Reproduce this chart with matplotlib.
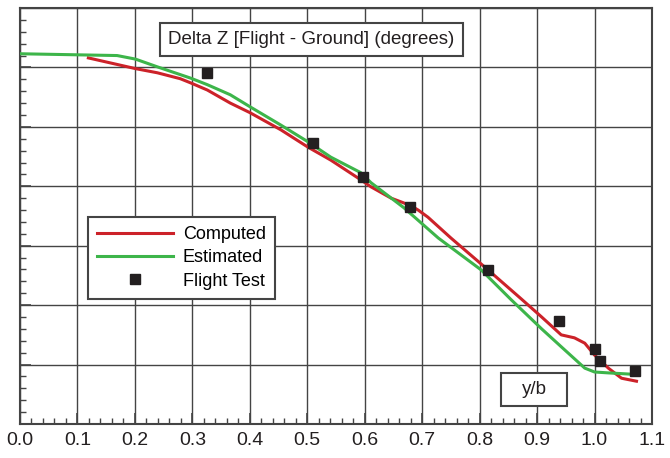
import numpy as np
import matplotlib
matplotlib.use("Agg")
import matplotlib.pyplot as plt
from matplotlib.patches import Rectangle
from matplotlib.ticker import MultipleLocator

plt.rcParams['font.family'] = ['Liberation Sans', 'DejaVu Sans']

# Computed (red line)
comp_x = [0.119, 0.201, 0.239, 0.279, 0.297, 0.326, 0.366, 0.400, 0.454, 0.501,
          0.541, 0.593, 0.611, 0.646, 0.668, 0.681, 0.693, 0.710, 0.750, 0.815,
          0.873, 0.908, 0.942, 0.965, 0.983, 1.000, 1.024, 1.047, 1.073]
comp_y = [6.16, 5.98, 5.91, 5.81, 5.74, 5.62, 5.40, 5.24, 4.95, 4.66,
          4.44, 4.11, 3.99, 3.80, 3.72, 3.67, 3.60, 3.48, 3.13, 2.59,
          2.10, 1.80, 1.50, 1.45, 1.36, 1.16, 0.94, 0.77, 0.72]

# Estimated (green line)
est_x = [0.0, 0.169, 0.201, 0.239, 0.297, 0.326, 0.366, 0.400, 0.454, 0.501,
         0.541, 0.593, 0.611, 0.668, 0.728, 0.803, 0.855, 0.908, 0.942, 0.983,
         1.000, 1.024, 1.061]
est_y = [6.23, 6.20, 6.14, 6.01, 5.82, 5.71, 5.54, 5.34, 5.03, 4.75,
         4.49, 4.23, 4.06, 3.64, 3.13, 2.59, 2.09, 1.60, 1.30, 0.94,
         0.875, 0.86, 0.84]

# Flight test (squares)
test_x = [0.325, 0.510, 0.597, 0.679, 0.815, 0.939, 1.000, 1.010, 1.070]
test_y = [5.91, 4.73, 4.16, 3.65, 2.59, 1.73, 1.26, 1.06, 0.89]

xticks = np.round(np.arange(0, 1.11, 0.1), 1)

fig = plt.figure(figsize=(6.7, 4.58), dpi=100)
ax = fig.add_axes([20/670, 34/458, 632/670, 416/458])

ink = '#231f20'
ax.plot(comp_x, comp_y, color='#cc2229', lw=2.2, label='Computed', zorder=3,
        solid_joinstyle='round')
ax.plot(est_x, est_y, color='#3db54a', lw=2.2, label='Estimated', zorder=3,
        solid_joinstyle='round')
ax.plot(test_x, test_y, ls='none', marker='s', ms=7.5, color=ink,
        label='Flight Test', zorder=4)

ax.set_xlim(0, 1.1)
ax.set_ylim(0, 7)
ax.set_xticks(xticks)
ax.set_xticklabels(['%.1f' % v for v in xticks])
ax.xaxis.set_minor_locator(MultipleLocator(0.02))
ax.yaxis.set_major_locator(MultipleLocator(1))
ax.yaxis.set_minor_locator(MultipleLocator(0.2))
ax.tick_params(axis='both', which='both', direction='in', colors='#444444',
               labelcolor=ink, labelsize=14, pad=6)
ax.tick_params(which='major', length=8, width=1.2)
ax.tick_params(which='minor', length=4.5, width=1.0)
ax.tick_params(axis='y', labelleft=False)
ax.grid(True, which='major', color='#444444', lw=1.0)
for s in ax.spines.values():
    s.set_color('#444444')
    s.set_linewidth(1.5)

leg = ax.legend(loc='upper left', bbox_to_anchor=(0.1076, 0.4976), fontsize=13,
                handlelength=4.2, handletextpad=0.55, labelspacing=0.35,
                borderpad=0.5, fancybox=False, framealpha=1, borderaxespad=0)
leg.get_frame().set_edgecolor('#444444')
leg.get_frame().set_linewidth(1.5)

# title box
ax.add_patch(Rectangle(((160-20)/632, (424-56)/416), 303/632, 33/416,
                       transform=ax.transAxes, facecolor='white',
                       edgecolor='#444444', lw=1.5, zorder=5))
ax.text((311-20)/632, (424-40)/416, 'Delta Z [Flight - Ground] (degrees)',
        transform=ax.transAxes, ha='center', va='center', fontsize=13.5,
        color=ink, zorder=6)

# y/b box
ax.add_patch(Rectangle(((501-20)/632, (424-406)/416), 66/632, 33/416,
                       transform=ax.transAxes, facecolor='white',
                       edgecolor='#444444', lw=1.5, zorder=5))
ax.text((534-20)/632, (424-390)/416, 'y/b', transform=ax.transAxes,
        ha='center', va='center', fontsize=13.5, color=ink, zorder=6)

fig.savefig('out.png', dpi=100)
